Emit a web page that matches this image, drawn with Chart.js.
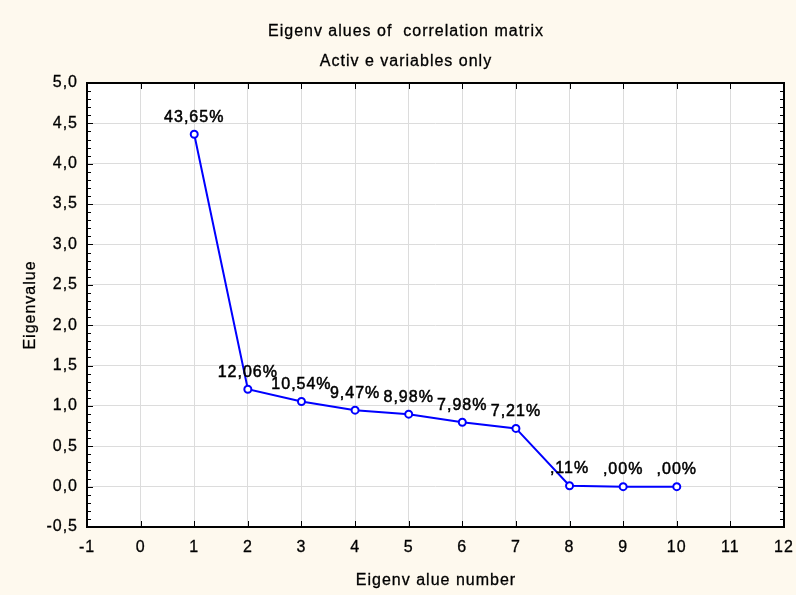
<!DOCTYPE html>
<html><head><meta charset="utf-8">
<script src="https://cdn.jsdelivr.net/npm/chart.js@4/dist/chart.umd.min.js"></script>
<style>html,body{margin:0;padding:0;background:#fef9ee}#wrap{width:796px;height:595px}</style>
</head><body><div id="wrap"><canvas id="c" width="796" height="595"></canvas></div>
<script>
const eigenNumbers = [1, 2, 3, 4, 5, 6, 7, 8, 9, 10];
const eigenvalues = [4.365, 1.206, 1.054, 0.947, 0.898, 0.798, 0.721, 0.011, 0.000, 0.000];
const pctLabels = ['43,65%', '12,06%', '10,54%', '9,47%', '8,98%', '7,98%', '7,21%', ',11%', ',00%', ',00%'];
const titleLines = ['Eigenv alues of  correlation matrix', 'Activ e variables only'];
const xTitle = 'Eigenv alue number';
const yTitle = 'Eigenvalue';

const FONT = '"Liberation Sans", Arial, sans-serif';
const CREAM = '#fef9ee';

const points = eigenNumbers.map((n, i) => ({x: n, y: eigenvalues[i]}));
const fmt = v => v.toFixed(1).replace('.', ',');

const spacing = {
  id: 'spacing',
  beforeInit(c) { c.ctx.letterSpacing = '1px'; },
  beforeLayout(c) { c.ctx.letterSpacing = '1px'; },
  beforeDraw(c) {
    const {ctx, chartArea: a} = c;
    ctx.letterSpacing = '1px';
    ctx.save();
    ctx.fillStyle = CREAM;
    ctx.fillRect(0, 0, c.width, c.height);
    ctx.fillStyle = '#ffffff';
    ctx.fillRect(a.left, a.top, a.right - a.left, a.bottom - a.top);
    ctx.restore();
  }
};

function boldText(ctx, s, x, y) {
  ctx.fillText(s, x, y);
  ctx.strokeText(s, x, y);
}

const decor = {
  id: 'decor',
  afterDatasetsDraw(c) {
    const {ctx, chartArea: a, scales: {x, y}} = c;
    ctx.save();
    ctx.letterSpacing = '1px';
    // data labels
    ctx.fillStyle = '#000';
    ctx.strokeStyle = '#000';
    ctx.lineWidth = 0.5;
    ctx.font = '16px ' + FONT;
    ctx.textAlign = 'center';
    ctx.textBaseline = 'middle';
    const meta = c.getDatasetMeta(0);
    meta.data.forEach((el, i) => {
      boldText(ctx, pctLabels[i], el.x, el.y - 17);
    });
    // ticks
    ctx.lineWidth = 1;
    const ln = (x1, y1, x2, y2) => { ctx.beginPath(); ctx.moveTo(x1, y1); ctx.lineTo(x2, y2); ctx.stroke(); };
    for (let k = -5; k <= 50; k++) {
      const v = k / 10;
      const py = Math.round(y.getPixelForValue(v)) + 0.5;
      const major = k % 5 === 0;
      const len = major ? 6 : 4;
      ln(a.left, py, a.left + len, py);
      ln(a.right, py, a.right - len, py);
    }
    for (let v = -1; v <= 12; v++) {
      const px = Math.round(x.getPixelForValue(v)) + 0.5;
      ln(px, a.top, px, a.top + 6);
      ln(px, a.bottom, px, a.bottom - 6);
    }
    // frame
    ctx.lineWidth = 2;
    ctx.strokeRect(a.left, a.top, a.right - a.left, a.bottom - a.top);
    // titles
    ctx.lineWidth = 0.3;
    ctx.font = '16px ' + FONT;
    ctx.textAlign = 'center';
    ctx.textBaseline = 'middle';
    boldText(ctx, titleLines[0], 406, 32);
    boldText(ctx, titleLines[1], 406, 62);
    boldText(ctx, xTitle, 436, 581);
    ctx.translate(31, (a.top + a.bottom) / 2);
    ctx.rotate(-Math.PI / 2);
    boldText(ctx, yTitle, 0, 0);
    ctx.restore();
  }
};

new Chart(document.getElementById('c'), {
  type: 'scatter',
  data: {
    datasets: [{
      data: points,
      showLine: true,
      borderColor: '#0000ff',
      borderWidth: 2,
      pointRadius: 3.5,
      pointBorderWidth: 2,
      pointBackgroundColor: '#ffffff',
      pointBorderColor: '#0000ff',
      tension: 0
    }]
  },
  options: {
    responsive: false,
    animation: false,
    devicePixelRatio: 1,
    layout: {padding: {top: 83, right: 12, left: 0, bottom: 0}},
    plugins: {legend: {display: false}, tooltip: {enabled: false}, title: {display: false}},
    scales: {
      x: {
        type: 'linear', min: -1, max: 12,
        afterFit(s) { s.height = 68; s.paddingLeft = 0; s.paddingRight = 0; },
        ticks: {stepSize: 1, color: '#000', padding: 11, textStrokeColor: '#000', textStrokeWidth: 0.3, font: {family: FONT, size: 16}, callback: v => String(v)},
        grid: {color: '#dcdcdc', lineWidth: 1, drawTicks: false},
        border: {display: false}
      },
      y: {
        type: 'linear', min: -0.5, max: 5,
        afterFit(s) { s.width = 87; s.paddingTop = 0; s.paddingBottom = 0; },
        ticks: {stepSize: 0.5, color: '#000', padding: 9, textStrokeColor: '#000', textStrokeWidth: 0.3, font: {family: FONT, size: 16}, callback: v => fmt(v)},
        grid: {color: '#dcdcdc', lineWidth: 1, drawTicks: false},
        border: {display: false}
      }
    }
  },
  plugins: [spacing, decor]
});
</script>
</body></html>
